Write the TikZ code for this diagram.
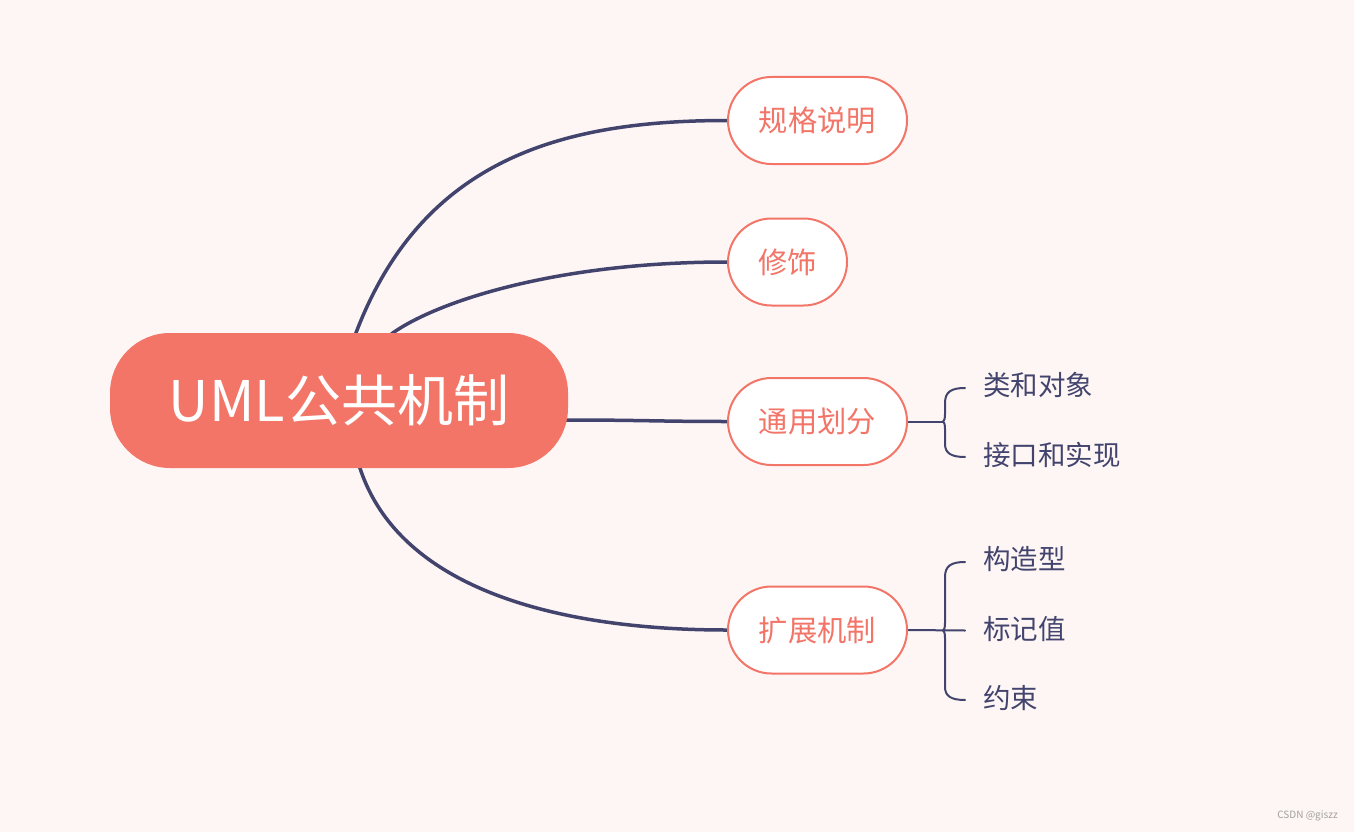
\documentclass[tikz,border=0pt]{standalone}
\usepackage{fontspec}
\newfontfamily\cjk{Noto Sans CJK SC}
\definecolor{bgc}{RGB}{254,246,244}
\definecolor{salmon}{RGB}{242,117,104}
\definecolor{navy}{RGB}{66,68,110}
\definecolor{wm}{RGB}{160,160,160}
\pgfdeclarelayer{bg}
\pgfdeclarelayer{lines}
\pgfsetlayers{bg,lines,main}
\tikzset{
  central/.style={rectangle, rounded corners=60pt, fill=salmon, text=white, minimum width=458pt, minimum height=135pt, inner sep=0pt, font=\cjk\fontsize{56}{60}\selectfont},
  topic/.style={rectangle, rounded corners=43.5pt, draw=salmon, line width=2pt, fill=white, text=salmon, minimum height=87pt, inner sep=0pt, font=\cjk\fontsize{29.3}{32}\selectfont},
  leaf/.style={anchor=west, inner sep=0pt, text=navy, font=\cjk\fontsize{27.5}{30}\selectfont},
  conn/.style={draw=navy, line width=3.5pt},
  brace/.style={draw=navy, line width=2pt, line cap=round},
}
\begin{document}
\begin{tikzpicture}[x=1pt,y=-1pt]
\begin{pgfonlayer}{bg}
\fill[bgc] (0,0) rectangle (1354,832);
\end{pgfonlayer}
\useasboundingbox (0,0) rectangle (1354,832);

\node[central] (c) at (339,400.5) {UML公共机制};
\node[topic, minimum width=179pt] (a1) at (817.5,120.5) {规格说明};
\node[topic, minimum width=119pt] (a2) at (787.5,262) {修饰};
\node[topic, minimum width=179pt] (a3) at (817.5,421.5) {通用划分};
\node[topic, minimum width=179pt] (a4) at (817.5,630) {扩展机制};

\node[leaf] (l1) at (983,385) {类和对象};
\node[leaf] (l2) at (983,455) {接口和实现};
\node[leaf] (l3) at (983,559) {构造型};
\node[leaf] (l4) at (983,629) {标记值};
\node[leaf] (l5) at (983,698) {约束};

\node[text=wm, font=\cjk\fontsize{10}{11}\selectfont, anchor=east, inner sep=0pt] (wmk) at (1338,816) {CSDN @giszz};

\coordinate (b1t) at (965,388);
\coordinate (b1b) at (965,457);
\coordinate (b1m) at (943,421.5);
\coordinate (b2t) at (965,562);
\coordinate (b2b) at (965,700);
\coordinate (b2m) at (943,630.5);
\coordinate (b2e) at (965,630.5);

\begin{pgfonlayer}{lines}
\draw[conn] ([xshift=13pt,yshift=-12pt]c.north) -- ([xshift=17pt]c.north) .. controls (422,160) and (560,120.5) .. (a1.west);
\draw[conn] ([xshift=44pt,yshift=-8pt]c.north) -- ([xshift=54pt]c.north) .. controls (440,300) and (560,262) .. (a2.west);
\draw[conn] ([xshift=-10pt]c.east |- 0,420) -- (567,420) .. controls (640,420) and (660,421.5) .. (a3.west);
\draw[conn] ([xshift=16pt,yshift=12pt]c.south) -- ([xshift=21pt]c.south) .. controls (400,590) and (560,630) .. (a4.west);

\draw[brace] (a3.east) -- (b1m);
\draw[brace] (b1t) .. controls (951,388) and (945,392) .. (945,403) -- (945,414)
  .. controls (945,419) and (944,421.5) .. (b1m)
  .. controls (944,421.5) and (945,424) .. (945,429) -- (945,444)
  .. controls (945,453) and (951,457) .. (b1b);
\draw[brace] (a4.east) -- (b2e);
\draw[brace] (b2t) .. controls (951,562) and (945,566) .. (945,577) -- (945,623)
  .. controls (945,628) and (944,630.5) .. (b2m)
  .. controls (944,630.5) and (945,633) .. (945,638) -- (945,687)
  .. controls (945,696) and (951,700) .. (b2b);
\end{pgfonlayer}
\end{tikzpicture}
\end{document}
